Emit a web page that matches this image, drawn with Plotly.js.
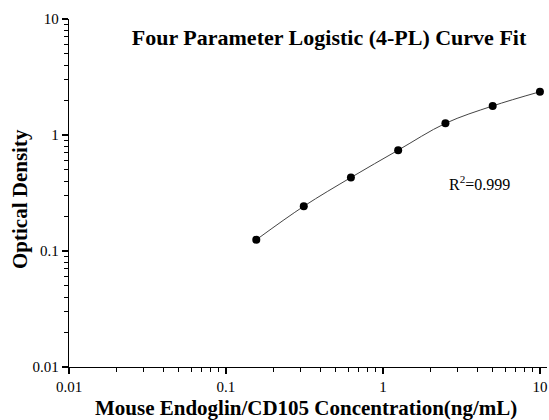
<!DOCTYPE html>
<html>
<head>
<meta charset="utf-8">
<script src="https://cdn.plot.ly/plotly-3.0.1.min.js"></script>
<style>body{margin:0;padding:0;background:#fff;} #chart{width:549px;height:420px;}</style>
</head>
<body>
<div id="chart"></div>
<script>
const concentrations = [0.156, 0.313, 0.625, 1.25, 2.5, 5, 10];
const opticalDensity = [0.125, 0.243, 0.43, 0.74, 1.26, 1.78, 2.36];
const xTickVals = [0.01, 0.1, 1, 10];
const xTickText = ['0.01', '0.1', '1', '10'];
const yTickVals = [0.01, 0.1, 1, 10];
const yTickText = ['0.01', '0.1', '1', '10'];
const chartTitle = 'Four Parameter Logistic (4-PL) Curve Fit';
const xTitle = 'Mouse Endoglin/CD105 Concentration(ng/mL)';
const yTitle = 'Optical Density';
const r2Text = 'R<sup>2</sup>=0.999';

const font = 'Liberation Serif, Times New Roman, serif';

const traces = [
  {
    x: concentrations, y: opticalDensity,
    mode: 'lines', type: 'scatter',
    line: {color: '#444', width: 1, shape: 'spline', smoothing: 1},
    hoverinfo: 'skip', showlegend: false
  },
  {
    x: concentrations, y: opticalDensity,
    mode: 'markers', type: 'scatter',
    marker: {color: '#000', size: 8},
    showlegend: false, cliponaxis: false
  }
];

const axisCommon = {
  type: 'log', showgrid: false, zeroline: false,
  showline: true, linecolor: '#000', linewidth: 1.3,
  ticks: 'outside', ticklen: 6, tickwidth: 1.2, tickcolor: '#000',
  tickfont: {family: font, size: 15, color: '#000'},
  tickmode: 'array',
  minor: {ticks: 'outside', ticklen: 3.5, tickwidth: 1, tickcolor: '#000', dtick: 'D1', showgrid: false}
};

const layout = {
  width: 549, height: 420,
  margin: {l: 69, r: 2, t: 19, b: 53},
  paper_bgcolor: '#fff', plot_bgcolor: '#fff',
  showlegend: false,
  title: {
    text: '<b>' + chartTitle + '</b>',
    font: {family: font, size: 22, color: '#000'},
    xref: 'paper', x: 0.544, xanchor: 'center',
    yref: 'container', y: 0.912, yanchor: 'middle'
  },
  xaxis: Object.assign({}, axisCommon, {
    range: [-2, 1.045],
    tickvals: xTickVals, ticktext: xTickText,
    ticklabelstandoff: 0
  }),
  yaxis: Object.assign({}, axisCommon, {
    range: [-2, 1],
    tickvals: yTickVals, ticktext: yTickText
  }),
  annotations: [
    {
      text: r2Text, xref: 'paper', yref: 'paper',
      x: (447 - 69) / 478, y: 1 - (183 - 19) / 348,
      xanchor: 'left', yanchor: 'middle', showarrow: false,
      font: {family: font, size: 16, color: '#000'}
    },
    {
      text: '<b>' + yTitle + '</b>', xref: 'paper', yref: 'paper',
      x: (20 - 69) / 478, y: 1 - (199 - 19) / 348,
      xanchor: 'center', yanchor: 'middle', showarrow: false, textangle: -90,
      font: {family: font, size: 21, color: '#000'}
    },
    {
      text: '<b>' + xTitle + '</b>', xref: 'paper', yref: 'paper',
      x: (306 - 69) / 478, y: (367 - 421) / 348,
      xanchor: 'center', yanchor: 'bottom', showarrow: false, borderpad: 0,
      font: {family: font, size: 21, color: '#000'}
    }
  ]
};

Plotly.newPlot('chart', traces, layout, {displayModeBar: false, staticPlot: true});
</script>
</body>
</html>
